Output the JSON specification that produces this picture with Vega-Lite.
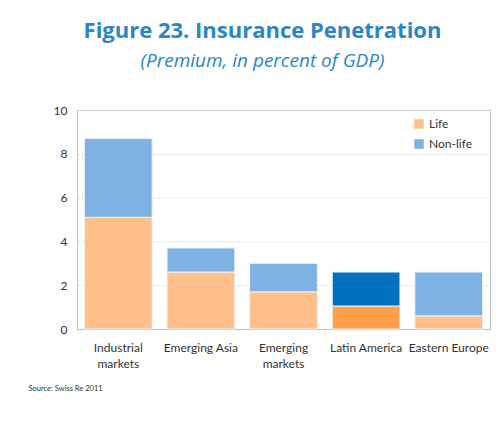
{
  "$schema": "https://vega.github.io/schema/vega-lite/v6.json",
  "width": 413,
  "height": 219,
  "autosize": {"type": "none"},
  "padding": {"left": 77, "top": 110, "right": 6, "bottom": 104},
  "background": "white",
  "title": {
    "text": "Figure 23. Insurance Penetration",
    "subtitle": "(Premium, in percent of GDP)",
    "anchor": "middle",
    "dx": -21,
    "offset": 32,
    "font": "Open Sans",
    "fontSize": 22,
    "fontWeight": "bold",
    "color": "#2A86C6",
    "subtitleFont": "Open Sans",
    "subtitleFontSize": 19,
    "subtitleFontStyle": "italic",
    "subtitleColor": "#2A86C6",
    "subtitlePadding": 9
  },
  "data": {
    "values": [
      {"region": "Industrial markets", "type": "Life", "value": 5.1},
      {"region": "Industrial markets", "type": "Non-life", "value": 3.6},
      {"region": "Emerging Asia", "type": "Life", "value": 2.6},
      {"region": "Emerging Asia", "type": "Non-life", "value": 1.1},
      {"region": "Emerging markets", "type": "Life", "value": 1.7},
      {"region": "Emerging markets", "type": "Non-life", "value": 1.3},
      {"region": "Latin America", "type": "Life", "value": 1.05},
      {"region": "Latin America", "type": "Non-life", "value": 1.55},
      {"region": "Eastern Europe", "type": "Life", "value": 0.6},
      {"region": "Eastern Europe", "type": "Non-life", "value": 2.0}
    ]
  },
  "transform": [
    {"calculate": "datum.region == 'Latin America' ? datum.type + ' (highlight)' : datum.type", "as": "series"}
  ],
  "config": {
    "view": {"stroke": "#BFBFBF", "strokeWidth": 1},
    "font": "Lato"
  },
  "mark": {"type": "bar", "stroke": "#EAF2FB", "strokeWidth": 1},
  "encoding": {
    "x": {
      "field": "region",
      "type": "nominal",
      "sort": null,
      "scale": {"paddingInner": 0.18, "paddingOuter": 0.09},
      "axis": {
        "title": "Source: Swiss Re 2011",
        "titleFont": "Lato",
        "titleFontSize": 7.5,
        "titleFontWeight": "normal",
        "titleColor": "#333333",
        "titleAnchor": "start",
        "titleAlign": "left",
        "titleX": -49,
        "titleY": 55,
        "labelAngle": 0,
        "labelFont": "Lato",
        "labelFontSize": 12,
        "labelColor": "#333333",
        "labelPadding": 13,
        "labelLineHeight": 16,
        "labelExpr": "indexof(['Industrial markets','Emerging markets'], datum.label) >= 0 ? split(datum.label, ' ') : datum.label",
        "ticks": false,
        "domainColor": "#BFBFBF"
      }
    },
    "y": {
      "field": "value",
      "type": "quantitative",
      "stack": "zero",
      "scale": {"domain": [0, 10]},
      "axis": {
        "title": null,
        "values": [0, 2, 4, 6, 8, 10],
        "labelFont": "Lato",
        "labelFontSize": 12,
        "labelColor": "#333333",
        "labelPadding": 10,
        "ticks": false,
        "domainColor": "#BFBFBF",
        "gridColor": "#D9D9D9",
        "gridDash": [2, 2]
      }
    },
    "color": {
      "field": "series",
      "type": "nominal",
      "scale": {
        "domain": ["Life", "Non-life", "Life (highlight)", "Non-life (highlight)"],
        "range": ["#FFC08C", "#7EB2E2", "#FF9F4A", "#0070C0"]
      },
      "legend": {
        "title": null,
        "values": ["Life", "Non-life"],
        "orient": "none",
        "legendX": 336,
        "legendY": 8,
        "symbolType": "square",
        "symbolSize": 90,
        "symbolStrokeWidth": 0,
        "labelFont": "Lato",
        "labelFontSize": 12,
        "labelColor": "#333333",
        "rowPadding": 8
      }
    },
    "order": {"field": "type", "sort": "ascending"}
  }
}
